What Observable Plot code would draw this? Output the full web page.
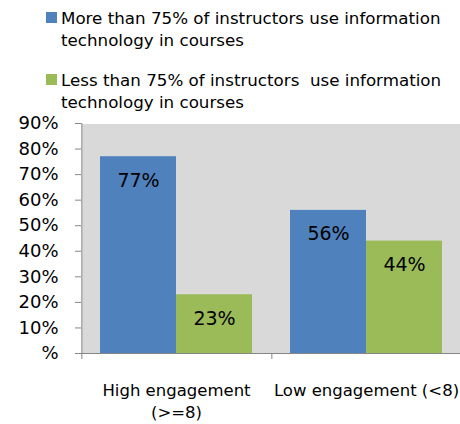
<!DOCTYPE html>
<html><head>
<meta charset="utf-8">
<script src="https://cdn.jsdelivr.net/npm/d3@7"></script>
<script src="https://cdn.jsdelivr.net/npm/@observablehq/plot@0.6"></script>
<style>
body{margin:0;background:#fff;font-family:"DejaVu Sans",sans-serif;color:#000;overflow:hidden}
#legend{position:relative;height:110px;width:460px}
.item{position:absolute;left:46px;display:flex;font-size:16.7px;line-height:22px;color:#000;white-space:pre-wrap}
.sw{width:11px;height:11px;margin-top:5px;margin-right:4px;flex:none}
.txt{width:395px}
</style></head><body>
<div id="legend"></div><div id="chart"></div>
<script>
const categories = ["High engagement\n(>=8)", "Low engagement (<8)"];
const series = ["More than 75% of instructors use information technology in courses",
                "Less than 75% of instructors  use information technology in courses"];
const moreValues = [0.77, 0.56];
const lessValues = [0.23, 0.44];
const colors = ["#4f81bd", "#9bbb59"];
const yTicks = [0, 0.1, 0.2, 0.3, 0.4, 0.5, 0.6, 0.7, 0.8, 0.9];
const yTickLabels = ["%", "10%", "20%", "30%", "40%", "50%", "60%", "70%", "80%", "90%"];

const data = categories.flatMap((c, i) => [
  {category: c, series: series[0], value: moreValues[i]},
  {category: c, series: series[1], value: lessValues[i]}
]);

// legend (HTML, above the SVG)
const legend = document.getElementById("legend");
const itemTops = [6.5, 69];
series.forEach((s, i) => {
  const it = document.createElement("div");
  it.className = "item";
  it.style.top = itemTops[i] + "px";
  const sw = document.createElement("div");
  sw.className = "sw";
  sw.style.background = colors[i];
  const tx = document.createElement("div");
  tx.className = "txt";
  tx.textContent = s;
  it.append(sw, tx);
  legend.append(it);
});

const W = 460, ML = 81, MR = -1;
const facetW = (W - ML - MR) / categories.length;
const padOuter = 0.2386;
const step = facetW / (series.length + 2 * padOuter);
const edgeDx = -step * (padOuter + 0.5); // from first band centre to facet's left edge
const axisGray = "#868686";

const chart = Plot.plot({
  width: W, height: 314,
  marginTop: 13, marginBottom: 71, marginLeft: ML, marginRight: MR,
  style: {fontFamily: "DejaVu Sans", background: "transparent", color: "#000"},
  fx: {domain: categories, padding: 0, label: null, axis: null},
  x: {domain: series, paddingInner: 0, paddingOuter: padOuter, axis: null},
  y: {domain: [0, 0.9], axis: null},
  color: {domain: series, range: colors},
  marks: [
    Plot.frame({fill: "#d9d9d9", stroke: "none", shapeRendering: "crispEdges"}),
    Plot.barY(data, {fx: "category", x: "series", y: "value", fill: "series"}),
    Plot.text(data, {fx: "category", x: "series", y: "value",
      text: d => d3.format(".0%")(d.value), dy: 24, fontSize: 19, fill: "#000"}),
    Plot.ruleY([0], {stroke: axisGray}),
    // vertical axis line (first facet only)
    Plot.ruleX([categories[0]], {fx: d => d, x: () => series[0], y1: 0, y2: 0.9,
      dx: edgeDx, stroke: axisGray}),
    // category boundary ticks below the axis
    Plot.ruleX(categories, {fx: d => d, x: () => series[0], y1: 0, y2: 0,
      insetBottom: -6, dx: edgeDx, stroke: axisGray}),
    Plot.axisY({ticks: yTicks, tickFormat: d => yTickLabels[yTicks.indexOf(d)], label: null,
      tickSize: 6, tickPadding: 17, fontSize: 18, stroke: axisGray, fill: "#000"}),
    Plot.axisFx({anchor: "bottom", tickSize: 0, tickPadding: 27, fontSize: 16.5,
      lineHeight: 1.33, fill: "#000", label: null})
  ]
});
document.getElementById("chart").append(chart);
</script>
</body></html>
